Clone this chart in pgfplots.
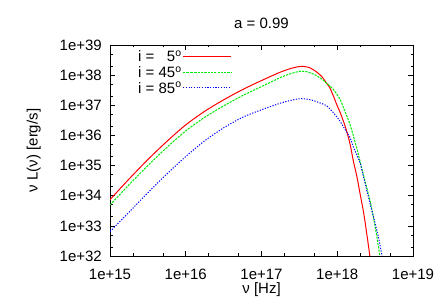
\documentclass[border=0pt]{standalone}
\usepackage{fontspec}
\setmainfont{Liberation Sans}
\usepackage{pgfplots}
\pgfplotsset{compat=1.18}
\definecolor{gred}{RGB}{255,0,0}
\definecolor{ggreen}{RGB}{0,235,0}
\definecolor{gblue}{RGB}{0,0,255}
\begin{document}
\fontsize{15}{18}\selectfont
\begin{tikzpicture}
\useasboundingbox (-110pt,-49pt) rectangle (326pt,256pt);
\begin{axis}[
  at={(0pt,0pt)}, anchor=south west,
  scale only axis, width=303pt, height=211pt,
  xmode=log, ymode=log,
  xmin=1e15, xmax=1e19, ymin=1e32, ymax=1e39,
  xtick={1e15,1e16,1e17,1e18,1e19},
  xticklabels={1e+15,1e+16,1e+17,1e+18,1e+19},
  ytick={1e32,1e33,1e34,1e35,1e36,1e37,1e38,1e39},
  yticklabels={1e+32,1e+33,1e+34,1e+35,1e+36,1e+37,1e+38,1e+39},
  minor xtick={2e15,5e15,2e16,5e16,2e17,5e17,2e18,5e18},
  minor ytick={2e32,5e32,2e33,5e33,2e34,5e34,2e35,5e35,2e36,5e36,2e37,5e37,2e38,5e38},
  tick align=inside,
  major tick length=5pt, minor tick length=2.5pt,
  every tick/.style={black, line width=0.6pt},
  axis line style={line width=0.8pt},
  xticklabel style={yshift=-8pt},
  yticklabel style={xshift=-3pt},
  title={a = 0.99},
  every axis title/.style={at={(axis description cs:0.5,1)}, anchor=center, yshift=22pt},
  xlabel={ν [Hz]},
  ylabel={ν L(ν) [erg/s]},
  every axis x label/.style={at={(axis description cs:0.5,-0.161)}, anchor=center},
  every axis y label/.style={at={(axis description cs:-0.252,0.5)}, anchor=center, rotate=90},
  legend style={draw=none, fill=none, at={(axis description cs:0.089,0.976)}, anchor=north west, inner sep=0pt, row sep=3.2pt,
    nodes={inner sep=1pt, text height=10.5pt, text depth=0pt}},
  legend cell align=right,
  legend plot pos=right,
  legend image code/.code={\path (0pt,0pt) -- (8pt,0pt); \draw[#1, line width=1.2pt] (8pt,0pt) -- (48pt,0pt);},
]
\addplot[gred, line width=1pt, smooth] coordinates {
(1e15,7.41e33) (1.778e15,3.548e34) (3.162e15,1.585e35) (5.623e15,6.310e35)
(1e16,2.239e36) (1.778e16,6.310e36) (3.162e16,1.514e37) (5.623e16,3.311e37)
(1e17,6.607e37) (1.778e17,1.259e38) (2.512e17,1.698e38) (3.311e17,1.950e38)
(4.169e17,1.820e38) (5.248e17,1.318e38) (6.310e17,8.710e37) (7.244e17,5.370e37)
(7.943e17,3.890e37) (8.913e17,1.995e37) (1e18,9.550e36) (1.096e18,5.623e36)
(1.202e18,3.020e36) (1.318e18,1.514e36) (1.479e18,5.012e35) (1.622e18,1.514e35)
(1.820e18,4.169e34) (1.995e18,1.202e34) (2.188e18,3.548e33) (2.344e18,1.202e33)
(2.512e18,3.548e32) (2.692e18,1e32) (2.818e18,3.981e31)
};
\addlegendentry{i = \phantom{4}5\textsuperscript{o}}
\addplot[ggreen, line width=1pt, dash pattern=on 2.2pt off 1.1pt, smooth] coordinates {
(1e15,4.898e33) (1.778e15,2.291e34) (3.162e15,1e35) (5.623e15,3.981e35)
(1e16,1.413e36) (1.778e16,3.981e36) (3.162e16,9.550e36) (5.623e16,2.089e37)
(1e17,4.169e37) (1.778e17,8.318e37) (2.512e17,1.148e38) (3.311e17,1.349e38)
(4.169e17,1.259e38) (5.248e17,9.772e37) (6.310e17,7.244e37) (7.244e17,5.370e37)
(8.913e17,3.311e37) (1.096e18,1.514e37) (1.259e18,6.310e36) (1.479e18,2.239e36)
(1.820e18,3.548e35) (2.188e18,5.495e34) (2.692e18,7.244e33) (3.162e18,9.333e32)
(3.548e18,1.585e32) (3.715e18,6.310e31)
};
\addlegendentry{i = 45\textsuperscript{o}}
\addplot[gblue, line width=1pt, dash pattern=on 1.2pt off 1.5pt, smooth] coordinates {
(1e15,6.457e32) (1.778e15,2.818e33) (3.162e15,1.259e34) (5.623e15,5.248e34)
(1e16,1.995e35) (1.778e16,6.607e35) (3.162e16,1.778e36) (5.623e16,3.981e36)
(1e17,7.079e36) (1.778e17,1.175e37) (2.512e17,1.479e37) (3.311e17,1.660e37)
(4.467e17,1.514e37) (5.888e17,1.202e37) (7.244e17,9.550e36) (8.913e17,5.623e36)
(1.096e18,2.884e36) (1.202e18,1.950e36) (1.479e18,8.318e35) (1.622e18,4.266e35)
(1.995e18,1.259e35) (2.089e18,7.943e34) (2.570e18,9.333e33) (3.162e18,1.202e33)
(3.548e18,3.548e32) (3.890e18,1e32) (4.074e18,5.012e31)
};
\addlegendentry{i = 85\textsuperscript{o}}
\end{axis}
\end{tikzpicture}
\end{document}
